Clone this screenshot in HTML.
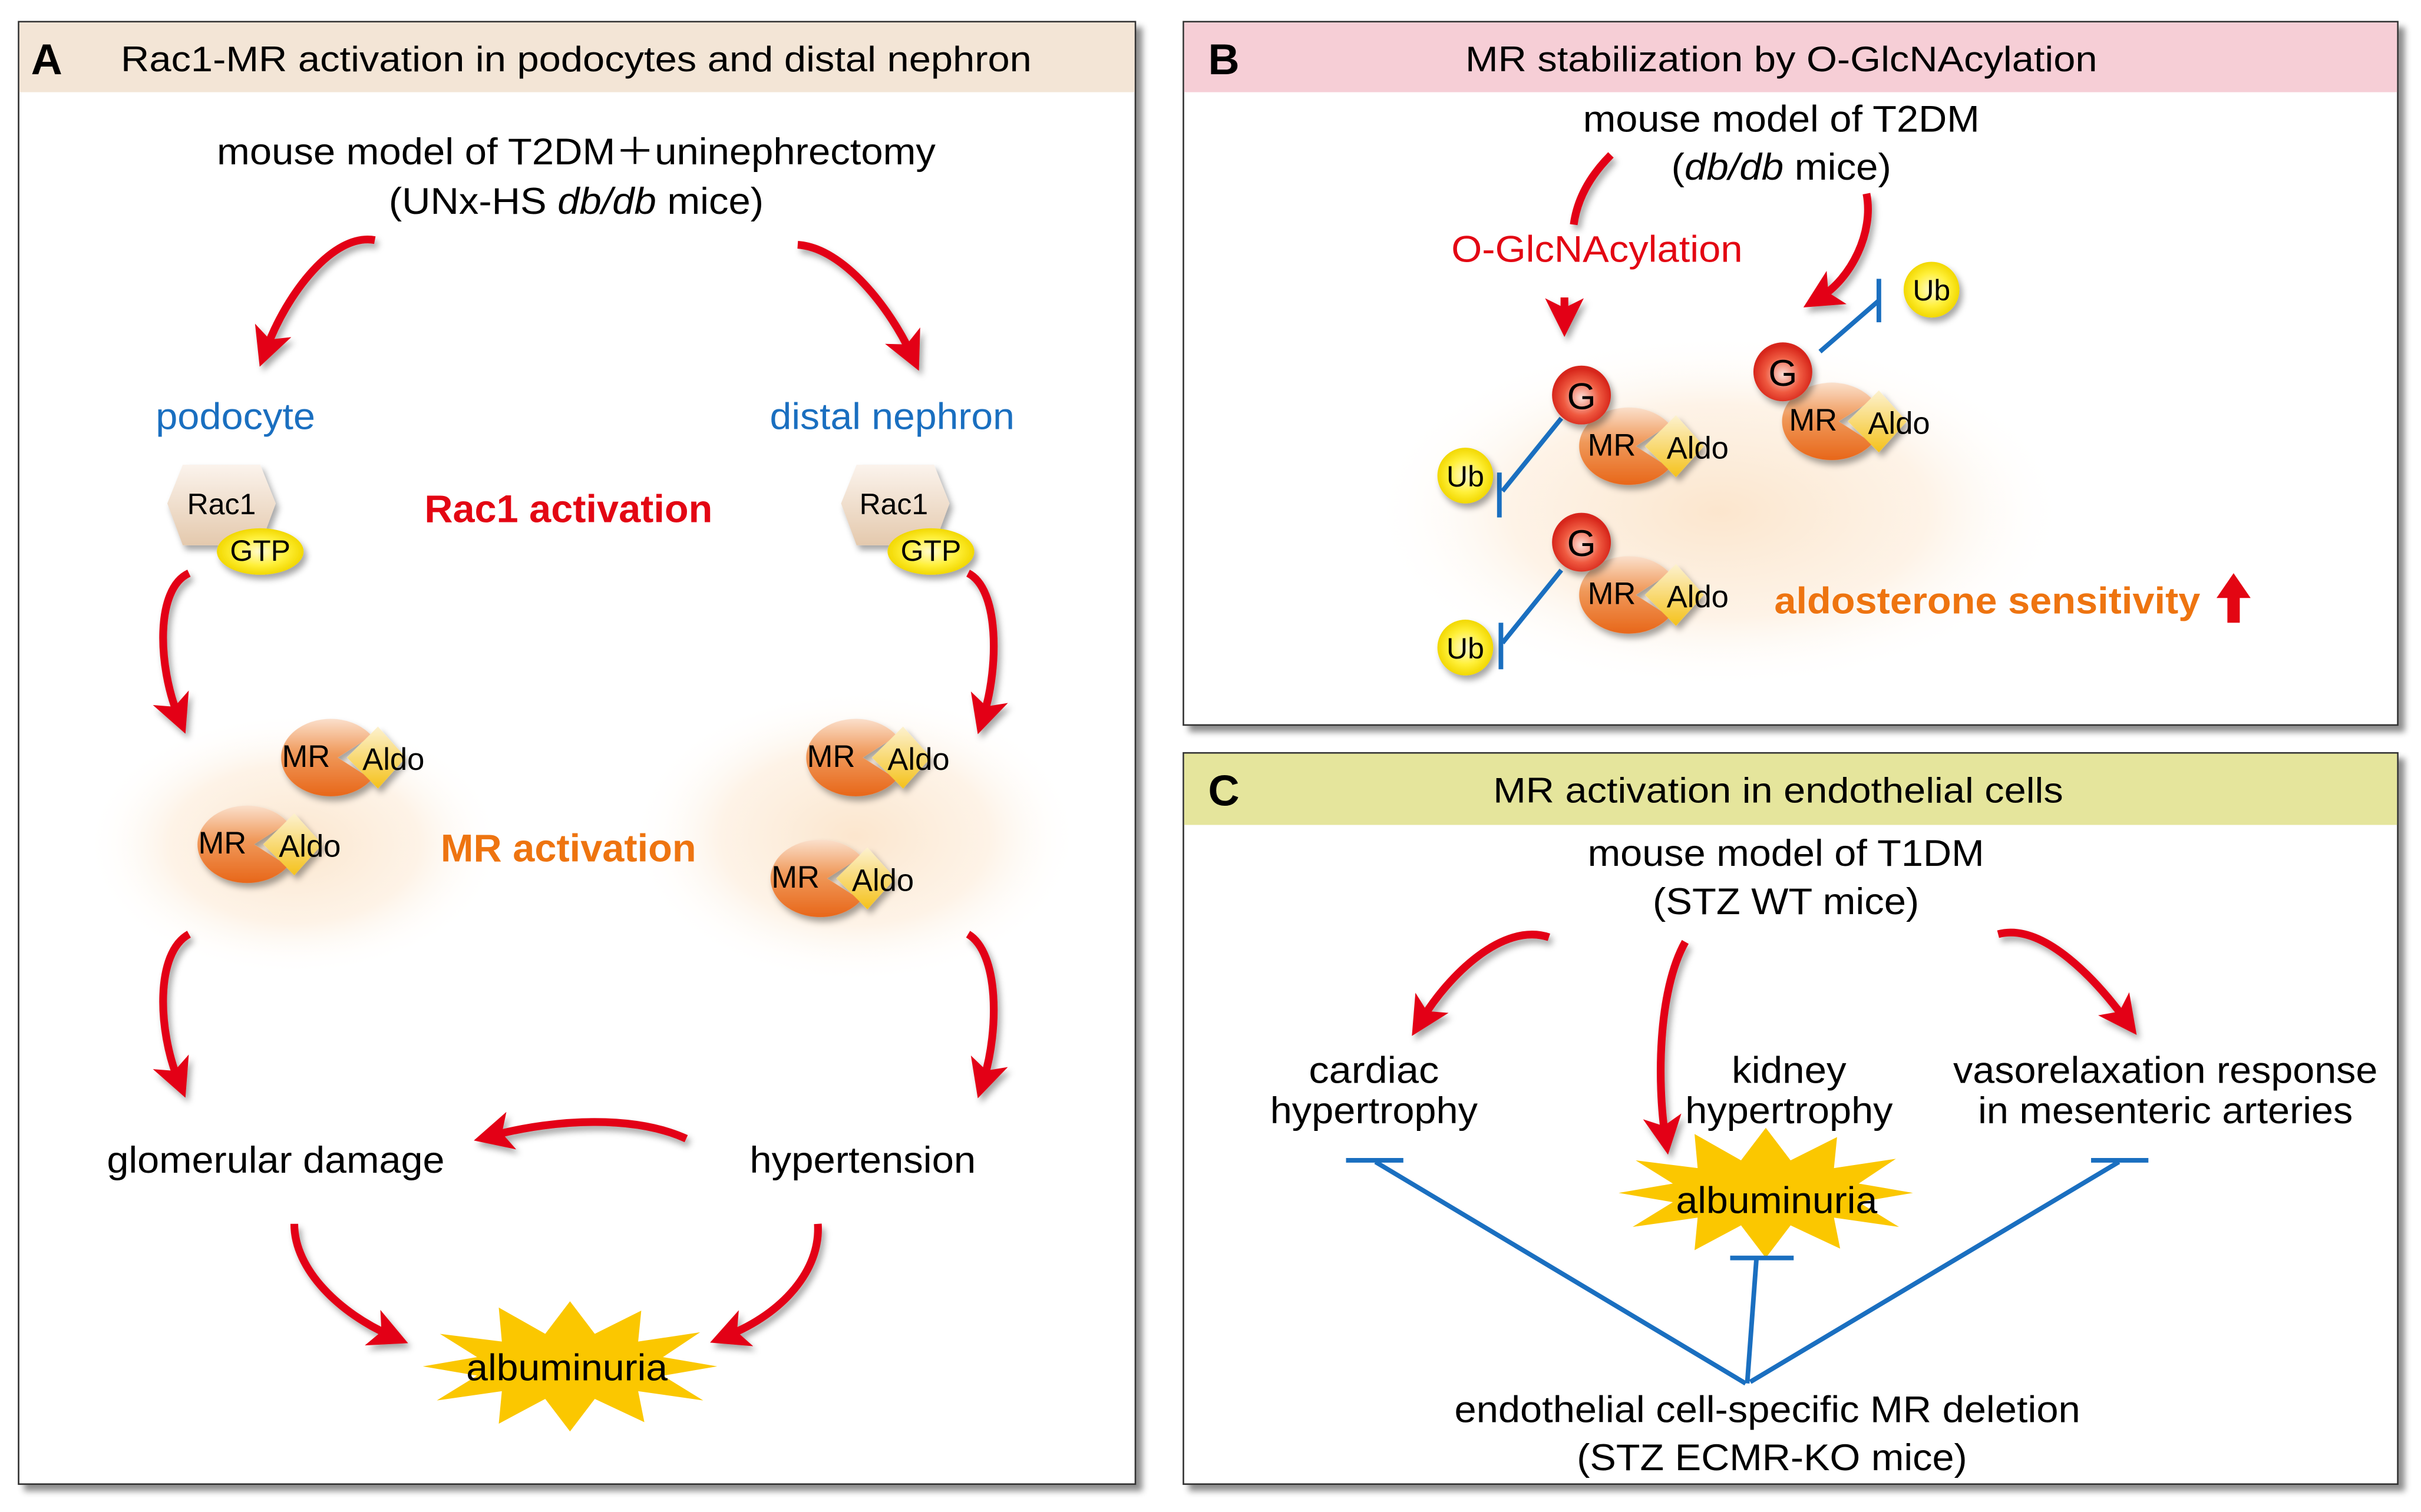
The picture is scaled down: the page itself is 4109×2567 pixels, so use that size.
<!DOCTYPE html>
<html><head><meta charset="utf-8"><style>
html,body{margin:0;padding:0;background:#fff}
svg{display:block}
text{font-family:"Liberation Sans","Noto Sans CJK JP",sans-serif}
</style></head><body>
<svg width="4109" height="2567" viewBox="0 0 1563 976" preserveAspectRatio="none" xmlns="http://www.w3.org/2000/svg">
<defs>
<marker id="ah" viewBox="0 0 10 10" refX="5" refY="5" markerWidth="5" markerHeight="5" orient="auto" markerUnits="strokeWidth">
<path d="M0,0 L10,5 L0,10 L2.5,5 z" fill="#e30613"/></marker>
<radialGradient id="glow"><stop offset="0" stop-color="#fbe3c8" stop-opacity="0.9"/><stop offset="0.6" stop-color="#fdeedd" stop-opacity="0.7"/><stop offset="1" stop-color="#fff" stop-opacity="0"/></radialGradient>
<linearGradient id="mrg" x1="0" y1="0" x2="0" y2="1"><stop offset="0" stop-color="#fbe0cc"/><stop offset="0.45" stop-color="#f0995a"/><stop offset="1" stop-color="#e8671a"/></linearGradient>
<linearGradient id="alg" x1="0" y1="0" x2="0" y2="1"><stop offset="0" stop-color="#fdf2d0"/><stop offset="1" stop-color="#f5c21b"/></linearGradient>
<radialGradient id="gg" cx="0.5" cy="0.55"><stop offset="0" stop-color="#fde0d8"/><stop offset="0.6" stop-color="#ef5a40"/><stop offset="1" stop-color="#d7261b"/></radialGradient>
<radialGradient id="yg" cx="0.5" cy="0.5"><stop offset="0" stop-color="#fffbd0"/><stop offset="0.6" stop-color="#fff03a"/><stop offset="1" stop-color="#f2d800"/></radialGradient>
<linearGradient id="hx" x1="0" y1="0" x2="0" y2="1"><stop offset="0" stop-color="#fbf3ec"/><stop offset="1" stop-color="#e4c9ad"/></linearGradient>
<filter id="sh" x="-20%" y="-20%" width="150%" height="150%"><feDropShadow dx="2" dy="3" stdDeviation="2" flood-color="#000" flood-opacity="0.35"/></filter>
<filter id="bs" x="-5%" y="-5%" width="110%" height="110%"><feDropShadow dx="4" dy="4" stdDeviation="2" flood-color="#000" flood-opacity="0.45"/></filter>
<g id="mr">
<path d="M28,-14 A32,25 0 1 0 28,14 L6,0 Z" fill="url(#mrg)"/>
<path d="M12,0 L32,-20 L50,0 L32,20 Z" fill="url(#alg)"/>
</g>
<polygon id="star" fill="#fbc700" points="95,0 60,6 86,22 44,16 48,36 16,21 0,42 -16,21 -46,37 -44,16 -86,22 -60,6 -95,0 -60,-6 -84,-21 -44,-16 -46,-38 -16,-21 0,-42 16,-21 46,-36 44,-16 84,-22 60,-6"/>
</defs>

<g filter="url(#bs)">
<rect x="12" y="14" width="721" height="944" fill="#fff" stroke="#333" stroke-width="1"/>
<rect x="764" y="14" width="784" height="454" fill="#fff" stroke="#333" stroke-width="1"/>
<rect x="764" y="486" width="784" height="472" fill="#fff" stroke="#333" stroke-width="1"/>
</g>
<rect x="12.5" y="14.5" width="720" height="45" fill="#f3e5d6"/>
<rect x="764.5" y="14.5" width="783" height="45" fill="#f6ced6"/>
<rect x="764.5" y="486.5" width="783" height="46" fill="#e5e59c"/>

<text x="20" y="48" font-size="28" font-weight="bold">A</text>
<text x="372" y="46" font-size="23" text-anchor="middle" textLength="588" lengthAdjust="spacingAndGlyphs">Rac1-MR activation in podocytes and distal nephron</text>
<text x="780" y="48" font-size="28" font-weight="bold">B</text>
<text x="1150" y="46" font-size="23" text-anchor="middle" textLength="408" lengthAdjust="spacingAndGlyphs">MR stabilization by O-GlcNAcylation</text>
<text x="780" y="520" font-size="28" font-weight="bold">C</text>
<text x="1148" y="518" font-size="23" text-anchor="middle" textLength="368" lengthAdjust="spacingAndGlyphs">MR activation in endothelial cells</text>

<ellipse cx="190" cy="545" rx="135" ry="85" fill="url(#glow)"/>
<ellipse cx="552" cy="540" rx="145" ry="95" fill="url(#glow)"/>
<ellipse cx="1110" cy="330" rx="225" ry="115" fill="url(#glow)"/>

<text x="372" y="106" font-size="24" text-anchor="middle" textLength="464" lengthAdjust="spacingAndGlyphs">mouse model of T2DM＋uninephrectomy</text>
<text x="372" y="138" font-size="24" text-anchor="middle" textLength="242" lengthAdjust="spacingAndGlyphs">(UNx-HS <tspan font-style="italic">db/db</tspan> mice)</text>
<text x="152" y="277" font-size="24" fill="#1a6fc0" text-anchor="middle" textLength="103" lengthAdjust="spacingAndGlyphs">podocyte</text>
<text x="576" y="277" font-size="24" fill="#1a6fc0" text-anchor="middle" textLength="158" lengthAdjust="spacingAndGlyphs">distal nephron</text>
<text x="367" y="337" font-size="25" font-weight="bold" fill="#e30613" text-anchor="middle" textLength="186" lengthAdjust="spacingAndGlyphs">Rac1 activation</text>
<text x="367" y="556" font-size="25" font-weight="bold" fill="#ee7410" text-anchor="middle" textLength="165" lengthAdjust="spacingAndGlyphs">MR activation</text>
<text x="178" y="757" font-size="24" text-anchor="middle" textLength="218" lengthAdjust="spacingAndGlyphs">glomerular damage</text>
<text x="557" y="757" font-size="24" text-anchor="middle" textLength="146" lengthAdjust="spacingAndGlyphs">hypertension</text>

<g filter="url(#sh)">
<polygon points="118,300 168,300 178,325 168,352 118,352 108,325" fill="url(#hx)"/>
<ellipse cx="168" cy="356" rx="28" ry="15" fill="url(#yg)"/>
<polygon points="553,300 603,300 613,325 603,352 553,352 543,325" fill="url(#hx)"/>
<ellipse cx="601" cy="356" rx="28" ry="15" fill="url(#yg)"/>
</g>
<text x="143" y="332" font-size="19" text-anchor="middle">Rac1</text>
<text x="168" y="362" font-size="19" text-anchor="middle">GTP</text>
<text x="577" y="332" font-size="19" text-anchor="middle">Rac1</text>
<text x="601" y="362" font-size="19" text-anchor="middle">GTP</text>

<g filter="url(#sh)">
<use href="#mr" x="212" y="489"/><use href="#mr" x="158" y="545"/>
<use href="#mr" x="551" y="489"/><use href="#mr" x="528" y="567"/>
<use href="#mr" x="1050" y="288"/><use href="#mr" x="1181" y="272"/><use href="#mr" x="1050" y="384"/>
</g>
<g font-size="20">
<text x="182" y="495">MR</text><text x="234" y="497">Aldo</text>
<text x="128" y="551">MR</text><text x="180" y="553">Aldo</text>
<text x="521" y="495">MR</text><text x="573" y="497">Aldo</text>
<text x="498" y="573">MR</text><text x="550" y="575">Aldo</text>
<text x="1025" y="294">MR</text><text x="1076" y="296">Aldo</text>
<text x="1155" y="278">MR</text><text x="1206" y="280">Aldo</text>
<text x="1025" y="390">MR</text><text x="1076" y="392">Aldo</text>
</g>

<g fill="none" stroke="#e30613" stroke-width="5" marker-end="url(#ah)" filter="url(#sh)">
<path d="M242,155 C215,150 185,190 172,225"/>
<path d="M515,158 C545,160 575,200 588,228"/>
<path d="M122,370 C100,380 102,430 115,462"/>
<path d="M625,370 C645,380 645,430 635,462"/>
<path d="M122,603 C100,615 102,665 115,697"/>
<path d="M625,603 C645,615 645,665 635,697"/>
<path d="M443,735 C410,720 360,722 318,733"/>
<path d="M190,790 C190,820 220,848 252,862"/>
<path d="M528,790 C530,820 505,848 470,862"/>
<path d="M1010,192 L1010,205"/>
<path d="M1205,125 C1210,150 1195,180 1175,192"/>
<path d="M1000,605 C970,595 935,630 918,658"/>
<path d="M1088,608 C1070,640 1070,700 1075,733"/>
<path d="M1290,603 C1320,595 1355,635 1372,658"/>
</g>
<path d="M1040,100 C1025,115 1018,130 1016,145" fill="none" stroke="#e30613" stroke-width="5" filter="url(#sh)"/>

<use href="#star" x="368" y="882"/>
<text x="366" y="891" font-size="24" text-anchor="middle" textLength="130" lengthAdjust="spacingAndGlyphs">albuminuria</text>

<text x="1150" y="85" font-size="24" text-anchor="middle" textLength="256" lengthAdjust="spacingAndGlyphs">mouse model of T2DM</text>
<text x="1150" y="116" font-size="24" text-anchor="middle" textLength="142" lengthAdjust="spacingAndGlyphs">(<tspan font-style="italic">db/db</tspan> mice)</text>
<text x="1031" y="169" font-size="24" fill="#e30613" text-anchor="middle" textLength="188" lengthAdjust="spacingAndGlyphs">O-GlcNAcylation</text>
<g stroke="#1a6fc0" stroke-width="3" fill="none">
<path d="M1008,270 L970,317 M968,305 L968,334"/>
<path d="M1008,368 L970,415 M969,402 L969,432"/>
<path d="M1175,227 L1213,194 M1213,180 L1213,208"/>
</g>
<g filter="url(#sh)">
<circle cx="1021" cy="255" r="19" fill="url(#gg)"/>
<circle cx="1151" cy="240" r="19" fill="url(#gg)"/>
<circle cx="1021" cy="350" r="19" fill="url(#gg)"/>
<circle cx="946" cy="307" r="18" fill="url(#yg)"/>
<circle cx="1247" cy="187" r="18" fill="url(#yg)"/>
<circle cx="946" cy="418" r="18" fill="url(#yg)"/>
</g>
<g font-size="24" text-anchor="middle">
<text x="1021" y="264">G</text><text x="1151" y="249">G</text><text x="1021" y="359">G</text>
</g>
<g font-size="19" text-anchor="middle">
<text x="946" y="314">Ub</text><text x="1247" y="194">Ub</text><text x="946" y="425">Ub</text>
</g>
<text x="1283" y="396" font-size="24" font-weight="bold" fill="#ee7410" text-anchor="middle" textLength="275" lengthAdjust="spacingAndGlyphs">aldosterone sensitivity</text>
<polygon points="1442,370 1453,386 1446,386 1446,402 1438,402 1438,386 1431,386" fill="#e30613"/>

<text x="1153" y="559" font-size="24" text-anchor="middle" textLength="256" lengthAdjust="spacingAndGlyphs">mouse model of T1DM</text>
<text x="1153" y="590" font-size="24" text-anchor="middle" textLength="172" lengthAdjust="spacingAndGlyphs">(STZ WT mice)</text>
<g font-size="24" text-anchor="middle">
<text x="887" y="699" textLength="84" lengthAdjust="spacingAndGlyphs">cardiac</text>
<text x="887" y="725" textLength="134" lengthAdjust="spacingAndGlyphs">hypertrophy</text>
<text x="1155" y="699" textLength="74" lengthAdjust="spacingAndGlyphs">kidney</text>
<text x="1155" y="725" textLength="134" lengthAdjust="spacingAndGlyphs">hypertrophy</text>
<text x="1398" y="699" textLength="274" lengthAdjust="spacingAndGlyphs">vasorelaxation response</text>
<text x="1398" y="725" textLength="242" lengthAdjust="spacingAndGlyphs">in mesenteric arteries</text>
</g>
<use href="#star" x="1140" y="770"/>
<text x="1147" y="783" font-size="24" text-anchor="middle" textLength="130" lengthAdjust="spacingAndGlyphs">albuminuria</text>
<g stroke="#1a6fc0" stroke-width="3" fill="none">
<path d="M1127,893 L888,750 M869,749 L906,749"/>
<path d="M1130,892 L1368,750 M1350,749 L1387,749"/>
<path d="M1128,893 L1134,812 M1117,812 L1158,812"/>
</g>
<text x="1141" y="918" font-size="24" text-anchor="middle" textLength="404" lengthAdjust="spacingAndGlyphs">endothelial cell-specific MR deletion</text>
<text x="1144" y="949" font-size="24" text-anchor="middle" textLength="252" lengthAdjust="spacingAndGlyphs">(STZ ECMR-KO mice)</text>
</svg>
</body></html>
